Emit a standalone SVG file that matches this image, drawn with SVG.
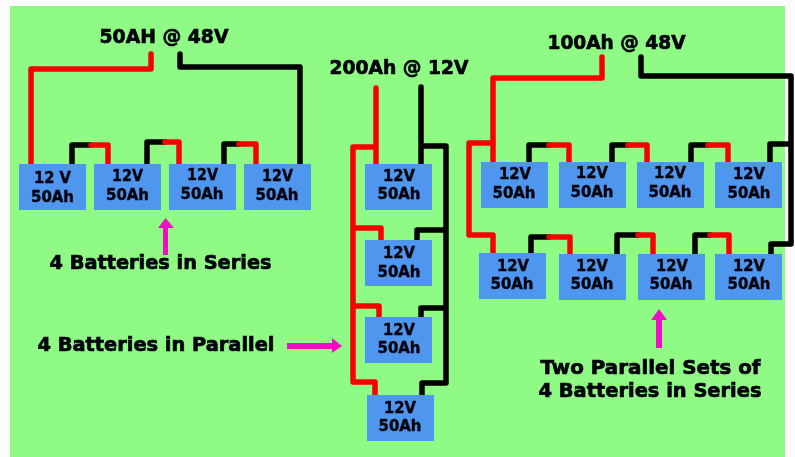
<svg xmlns="http://www.w3.org/2000/svg" width="795" height="457" viewBox="0 0 795 457">
<defs><filter id="soft" x="-5%" y="-5%" width="110%" height="110%"><feGaussianBlur stdDeviation="0.45"/></filter></defs>
<style>
.w{fill:none;stroke-width:5.500;stroke-linejoin:round;stroke-linecap:round}
.r{stroke:#f70000}
.k{stroke:#050505}
.b{fill:#4f96ee}
text{font-family:"DejaVu Sans","Liberation Sans",sans-serif;font-weight:700;fill:#06060e;stroke:#06060e;stroke-width:.7;text-anchor:middle}
.t{font-size:15.500px;stroke-width:.45}
.h{font-size:20px}
.l{font-size:20px}
.a{fill:#f010c8}
</style>
<rect width="795" height="457" fill="#fbfbfb"/>
<rect x="10" y="6" width="775" height="451" fill="#8ffb84"/>
<g filter="url(#soft)">
<g id="connectors">
<path class="w r" d="M31 164V69H151V54"/>
<path class="w k" d="M180 54V67H300V164"/>
<path class="w k" d="M72 164V145H91"/><path class="w r" d="M91 145H108V164"/>
<path class="w k" d="M147 164V142H165"/><path class="w r" d="M165 142H179V164"/>
<path class="w k" d="M224 164V144H239"/><path class="w r" d="M239 144H256V164"/>
<path class="w r" d="M376 88V164M376 147H353V382H375V395M353 228H381V240M353 306H379V317"/>
<path class="w k" d="M421 87V164M421 146H446V383H422V395M446 230H417V240M446 308H421V317"/>
<path class="w r" d="M602 57V78H493V162M493 143H469V235H493V253"/>
<path class="w k" d="M641 57V76H791V244H771V254M791 144H770V162"/>
<path class="w k" d="M529 162V145H549"/><path class="w r" d="M549 145H569V162"/>
<path class="w k" d="M612 162V145H628"/><path class="w r" d="M628 145H647V162"/>
<path class="w k" d="M691 162V145H708"/><path class="w r" d="M708 145H728V162"/>
<path class="w k" d="M531 254V237H549"/><path class="w r" d="M549 237H570V254"/>
<path class="w k" d="M617 254V235H638"/><path class="w r" d="M638 235H653V254"/>
<path class="w k" d="M695 254V235H710"/><path class="w r" d="M710 235H729V254"/>
</g>
<g id="s1"><rect class="b" x="19" y="164" width="67" height="46"/><text class="t" x="52.500" y="183" textLength="37" lengthAdjust="spacingAndGlyphs">12 V</text><text class="t" x="52.500" y="202" textLength="43" lengthAdjust="spacingAndGlyphs">50Ah</text></g>
<g id="s2"><rect class="b" x="94" y="164" width="67" height="46"/><text class="t" x="127.500" y="181" textLength="31" lengthAdjust="spacingAndGlyphs">12V</text><text class="t" x="127.500" y="200" textLength="43" lengthAdjust="spacingAndGlyphs">50Ah</text></g>
<g id="s3"><rect class="b" x="169" y="164" width="67" height="46"/><text class="t" x="202.500" y="180" textLength="31" lengthAdjust="spacingAndGlyphs">12V</text><text class="t" x="202" y="199" textLength="43" lengthAdjust="spacingAndGlyphs">50Ah</text></g>
<g id="s4"><rect class="b" x="244" y="164" width="67" height="46"/><text class="t" x="277.500" y="181" textLength="31" lengthAdjust="spacingAndGlyphs">12V</text><text class="t" x="277" y="200" textLength="43" lengthAdjust="spacingAndGlyphs">50Ah</text></g>
<g id="p1"><rect class="b" x="365" y="164" width="67" height="46"/><text class="t" x="399" y="181" textLength="32" lengthAdjust="spacingAndGlyphs">12V</text><text class="t" x="399" y="199" textLength="43" lengthAdjust="spacingAndGlyphs">50Ah</text></g>
<g id="p2"><rect class="b" x="365" y="240" width="67" height="46"/><text class="t" x="399" y="258" textLength="32" lengthAdjust="spacingAndGlyphs">12V</text><text class="t" x="399" y="277" textLength="43" lengthAdjust="spacingAndGlyphs">50Ah</text></g>
<g id="p3"><rect class="b" x="365" y="317" width="67" height="46"/><text class="t" x="399" y="335" textLength="32" lengthAdjust="spacingAndGlyphs">12V</text><text class="t" x="399" y="353" textLength="43" lengthAdjust="spacingAndGlyphs">50Ah</text></g>
<g id="p4"><rect class="b" x="367" y="395" width="67" height="46"/><text class="t" x="400" y="413" textLength="32" lengthAdjust="spacingAndGlyphs">12V</text><text class="t" x="400" y="431" textLength="43" lengthAdjust="spacingAndGlyphs">50Ah</text></g>
<g id="a1"><rect class="b" x="481" y="162" width="67" height="46"/><text class="t" x="515" y="179" textLength="32" lengthAdjust="spacingAndGlyphs">12V</text><text class="t" x="514" y="198" textLength="43" lengthAdjust="spacingAndGlyphs">50Ah</text></g>
<g id="a2"><rect class="b" x="559" y="162" width="67" height="46"/><text class="t" x="592" y="178" textLength="32" lengthAdjust="spacingAndGlyphs">12V</text><text class="t" x="592" y="197" textLength="43" lengthAdjust="spacingAndGlyphs">50Ah</text></g>
<g id="a3"><rect class="b" x="637" y="162" width="67" height="46"/><text class="t" x="670" y="178" textLength="32" lengthAdjust="spacingAndGlyphs">12V</text><text class="t" x="670" y="197" textLength="43" lengthAdjust="spacingAndGlyphs">50Ah</text></g>
<g id="a4"><rect class="b" x="715" y="162" width="67" height="46"/><text class="t" x="749" y="179" textLength="32" lengthAdjust="spacingAndGlyphs">12V</text><text class="t" x="749" y="198" textLength="43" lengthAdjust="spacingAndGlyphs">50Ah</text></g>
<g id="c1"><rect class="b" x="479" y="253" width="67" height="46"/><text class="t" x="513" y="271" textLength="32" lengthAdjust="spacingAndGlyphs">12V</text><text class="t" x="512" y="289" textLength="43" lengthAdjust="spacingAndGlyphs">50Ah</text></g>
<g id="c2"><rect class="b" x="559" y="254" width="67" height="46"/><text class="t" x="592" y="271" textLength="32" lengthAdjust="spacingAndGlyphs">12V</text><text class="t" x="592" y="289" textLength="43" lengthAdjust="spacingAndGlyphs">50Ah</text></g>
<g id="c3"><rect class="b" x="638" y="254" width="67" height="46"/><text class="t" x="672" y="271" textLength="32" lengthAdjust="spacingAndGlyphs">12V</text><text class="t" x="671" y="289" textLength="43" lengthAdjust="spacingAndGlyphs">50Ah</text></g>
<g id="c4"><rect class="b" x="715" y="254" width="67" height="46"/><text class="t" x="749" y="271" textLength="32" lengthAdjust="spacingAndGlyphs">12V</text><text class="t" x="749" y="289" textLength="43" lengthAdjust="spacingAndGlyphs">50Ah</text></g>
<g id="arrows">
<path class="a" d="M165.500 218L174 228H168V255H163V228H158Z"/>
<path class="a" d="M287 343H332V338L342 346L332 353V349H287Z"/>
<path class="a" d="M659 309L667 320H662V348H656V320H651Z"/>
</g>
<g id="labels">
<text class="h" x="164" y="43" textLength="129" lengthAdjust="spacingAndGlyphs">50AH @ 48V</text>
<text class="h" x="399" y="74" textLength="139" lengthAdjust="spacingAndGlyphs">200Ah @ 12V</text>
<text class="h" x="616.500" y="49" textLength="138" lengthAdjust="spacingAndGlyphs">100Ah @ 48V</text>
<text class="l" x="160.500" y="269" textLength="222" lengthAdjust="spacingAndGlyphs">4 Batteries in Series</text>
<text class="l" x="156" y="351" textLength="237" lengthAdjust="spacingAndGlyphs">4 Batteries in Parallel</text>
<text class="l" x="650.500" y="374" textLength="220" lengthAdjust="spacingAndGlyphs">Two Parallel Sets of</text>
<text class="l" x="650" y="397" textLength="223" lengthAdjust="spacingAndGlyphs">4 Batteries in Series</text>
</g>
</g>
</svg>
